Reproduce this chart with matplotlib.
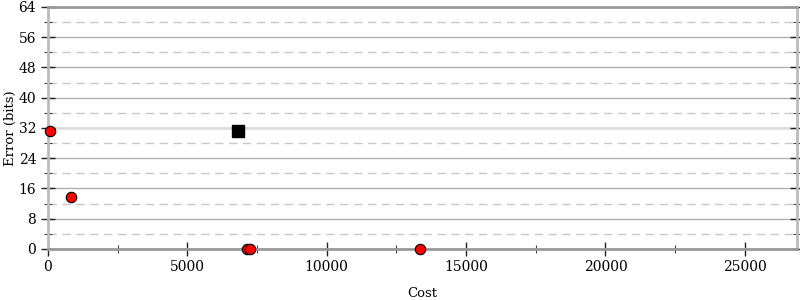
import matplotlib
matplotlib.use("Agg")
import matplotlib.pyplot as plt
from matplotlib.ticker import MultipleLocator

plt.rcParams['font.family'] = ['DejaVu Serif']

red_cost = [70, 825, 7140, 7245, 13340]
red_err = [31.2, 13.8, 0.1, 0.1, 0.1]
black_cost = [6815]
black_err = [31.2]
xmax = 26870

fig = plt.figure(figsize=(8, 3), dpi=100)
ax = fig.add_axes([0.06, 0.17, 0.93625, 0.8067])
ax.set_xlim(0, xmax)
ax.set_ylim(0, 64)

for y in range(8, 64, 8):
    c = '#dddddd' if y == 32 else '#b0b0b0'
    lw = 2 if y == 32 else 1
    ax.axhline(y, color=c, lw=lw, zorder=0)
for y in range(4, 64, 8):
    ax.axhline(y, color='#c8c8c8', lw=1, ls=(0, (6, 4)), zorder=0)

ax.plot(red_cost, red_err, 'o', color='red', mec='black', mew=0.8, ms=7.5, zorder=3, clip_on=False)
ax.plot(black_cost, black_err, 's', color='black', ms=8, zorder=3)

for s in ['left', 'right']:
    ax.spines[s].set_color('#bbbbbb')
    ax.spines[s].set_linewidth(2)
for s in ['top', 'bottom']:
    ax.spines[s].set_color('#999999')
    ax.spines[s].set_linewidth(2)

ax.xaxis.set_major_locator(MultipleLocator(5000))
ax.xaxis.set_minor_locator(MultipleLocator(2500))
ax.yaxis.set_major_locator(MultipleLocator(8))
ax.yaxis.set_minor_locator(MultipleLocator(4))
ax.tick_params(axis='both', which='major', direction='inout', length=10, width=1, color='#222222', labelsize=10)
ax.tick_params(axis='both', which='minor', direction='inout', length=6, width=0.8, color='#444444')
ax.tick_params(axis='y', right=True, which='both')
ax.tick_params(axis='x', pad=3)

ax.set_xlabel('Cost', fontsize=9.5, labelpad=9)
ax.set_ylabel('Error (bits)', fontsize=9.5, labelpad=1)

fig.savefig('out.png', dpi=100)
